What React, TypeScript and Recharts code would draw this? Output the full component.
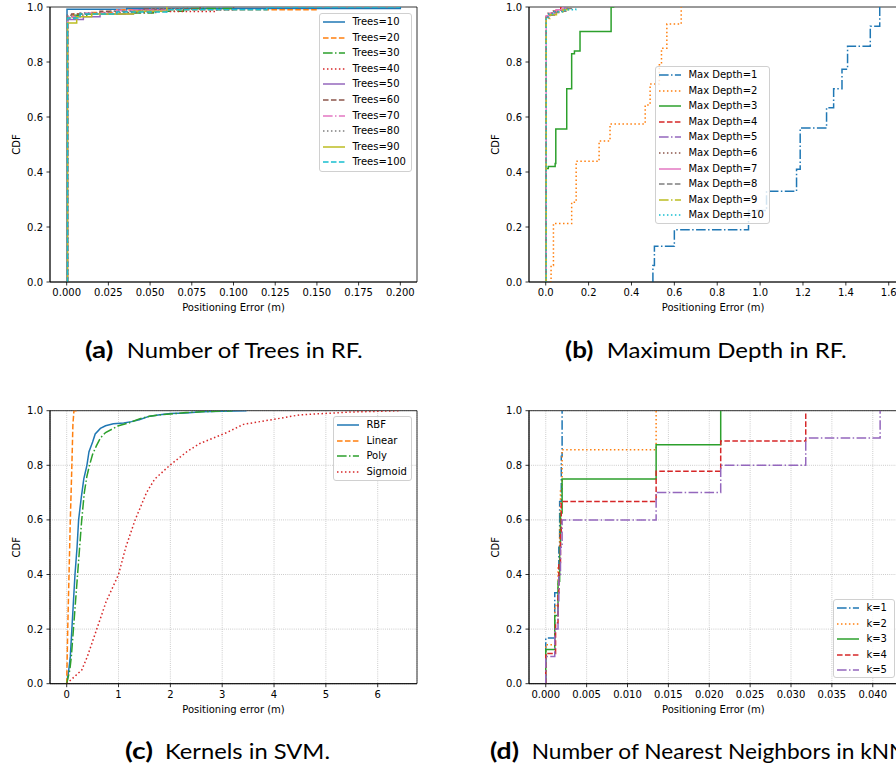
import React from 'react';
import { LineChart, Line, XAxis, YAxis, CartesianGrid, Legend, ReferenceArea, Label } from 'recharts';

type Pt = [number, number];

// ---------- shared ----------
const tab10 = ['#1f77b4', '#ff7f0e', '#2ca02c', '#d62728', '#9467bd', '#8c564b', '#e377c2', '#7f7f7f', '#bcbd22', '#17becf'];
const yTicks = [0, 0.2, 0.4, 0.6, 0.8, 1.0];

// ---------- (a) Number of trees ----------
const treesNames = ['Trees=10', 'Trees=20', 'Trees=30', 'Trees=40', 'Trees=50', 'Trees=60', 'Trees=70', 'Trees=80', 'Trees=90', 'Trees=100'];
const treesStyles = ['solid', 'dashed', 'dashdot', 'dotted', 'solid', 'dashed', 'dashdot', 'dotted', 'solid', 'dashed'];
const trees10: Pt[] = [[0, 0], [0.0002, 0.992], [0.036, 0.995], [0.2, 1.0]];
const trees20: Pt[] = [[0, 0], [0.0005, 0.965], [0.004, 0.975], [0.015, 0.98], [0.03, 0.99], [0.15, 1.0]];
const trees30: Pt[] = [[0, 0], [0.0005, 0.96], [0.005, 0.97], [0.012, 0.975], [0.035, 0.978], [0.052, 0.985], [0.07, 0.995], [0.1, 1.0]];
const trees40: Pt[] = [[0, 0], [0.0005, 0.965], [0.008, 0.975], [0.03, 0.98], [0.055, 0.984], [0.09, 0.99], [0.1, 1.0]];
const trees50: Pt[] = [[0, 0], [0.0005, 0.955], [0.01, 0.965], [0.02, 0.975], [0.04, 0.99], [0.06, 1.0]];
const trees60: Pt[] = [[0, 0], [0.0005, 0.97], [0.003, 0.975], [0.02, 0.985], [0.045, 0.993], [0.08, 1.0]];
const trees70: Pt[] = [[0, 0], [0.0005, 0.965], [0.01, 0.978], [0.03, 0.988], [0.06, 1.0]];
const trees80: Pt[] = [[0, 0], [0.0005, 0.968], [0.008, 0.978], [0.025, 0.985], [0.05, 0.995], [0.07, 1.0]];
const trees90: Pt[] = [[0, 0], [0.0005, 0.942], [0.006, 0.965], [0.015, 0.975], [0.04, 0.985], [0.06, 1.0]];
const trees100: Pt[] = [[0, 0], [0.0005, 0.96], [0.008, 0.975], [0.03, 0.982], [0.06, 0.99], [0.12, 1.0], [0.2, 1.0]];
const treesData = [trees10, trees20, trees30, trees40, trees50, trees60, trees70, trees80, trees90, trees100];
const treesTicks = [0, 0.025, 0.05, 0.075, 0.1, 0.125, 0.15, 0.175, 0.2];

// ---------- (b) Max depth ----------
const depthNames = ['Max Depth=1', 'Max Depth=2', 'Max Depth=3', 'Max Depth=4', 'Max Depth=5', 'Max Depth=6', 'Max Depth=7', 'Max Depth=8', 'Max Depth=9', 'Max Depth=10'];
const depthStyles = ['dashdot', 'dotted', 'solid', 'dashed', 'dashdot', 'dotted', 'solid', 'dashed', 'dashdot', 'dotted'];
const depth1: Pt[] = [[0.5, 0], [0.5, 0.06], [0.507, 0.13], [0.6, 0.19], [0.946, 0.26], [1.03, 0.33], [1.17, 0.41], [1.187, 0.56], [1.31, 0.634], [1.343, 0.703], [1.382, 0.774], [1.408, 0.857], [1.514, 0.93], [1.558, 1.0]];
const depth2: Pt[] = [[0.02, 0], [0.025, 0.06], [0.036, 0.213], [0.121, 0.29], [0.142, 0.439], [0.249, 0.513], [0.3, 0.575], [0.464, 0.644], [0.487, 0.72], [0.53, 0.79], [0.54, 0.85], [0.565, 0.938], [0.632, 1.0]];
const depth3: Pt[] = [[0, 0], [0.001, 0.413], [0.012, 0.42], [0.044, 0.431], [0.047, 0.556], [0.098, 0.703], [0.121, 0.83], [0.134, 0.84], [0.16, 0.911], [0.305, 1.0], [0.32, 1.0]];
const depth4: Pt[] = [[0, 0], [0.002, 0.965], [0.01, 0.975], [0.03, 0.985], [0.05, 0.99], [0.07, 1.0]];
const depth5: Pt[] = [[0, 0], [0.002, 0.96], [0.015, 0.97], [0.04, 0.98], [0.06, 0.99], [0.09, 1.0]];
const depth6: Pt[] = [[0, 0], [0.002, 0.965], [0.012, 0.978], [0.035, 0.985], [0.07, 0.992], [0.1, 1.0]];
const depth7: Pt[] = [[0, 0], [0.002, 0.968], [0.02, 0.978], [0.05, 0.99], [0.08, 1.0]];
const depth8: Pt[] = [[0, 0], [0.002, 0.962], [0.01, 0.97], [0.03, 0.98], [0.06, 0.985], [0.1, 0.995], [0.12, 1.0]];
const depth9: Pt[] = [[0, 0], [0.002, 0.958], [0.02, 0.972], [0.05, 0.982], [0.08, 0.99], [0.11, 1.0]];
const depth10: Pt[] = [[0, 0], [0.002, 0.963], [0.015, 0.975], [0.04, 0.983], [0.09, 0.99], [0.14, 1.0]];
const depthData = [depth1, depth2, depth3, depth4, depth5, depth6, depth7, depth8, depth9, depth10];
const depthTicks = [0, 0.2, 0.4, 0.6, 0.8, 1.0, 1.2, 1.4, 1.6];

// ---------- (c) SVM kernels ----------
const kernelNames = ['RBF', 'Linear', 'Poly', 'Sigmoid'];
const kernelStyles = ['solid', 'dashed', 'dashdot', 'dotted'];
const rbf: Pt[] = [[0, 0], [0.04, 0.05], [0.07, 0.1], [0.1, 0.2], [0.13, 0.3], [0.16, 0.4], [0.2, 0.5], [0.23, 0.6], [0.28, 0.68], [0.33, 0.75], [0.39, 0.8], [0.43, 0.85], [0.5, 0.885], [0.55, 0.915], [0.65, 0.935], [0.75, 0.945], [0.9, 0.952], [1.1, 0.955], [1.25, 0.96], [1.4, 0.967], [1.6, 0.98], [1.8, 0.985], [2.0, 0.99], [2.3, 0.992], [2.6, 0.996], [3.0, 0.998], [3.47, 1.0]];
const linear: Pt[] = [[0, 0], [0.02, 0.2], [0.045, 0.4], [0.07, 0.6], [0.1, 0.8], [0.12, 0.95], [0.14, 1.0], [0.2, 1.0]];
const poly: Pt[] = [[0, 0], [0.06, 0.05], [0.09, 0.1], [0.13, 0.2], [0.17, 0.3], [0.21, 0.4], [0.25, 0.5], [0.29, 0.6], [0.34, 0.7], [0.39, 0.76], [0.44, 0.8], [0.5, 0.84], [0.57, 0.87], [0.65, 0.9], [0.75, 0.92], [0.9, 0.935], [1.0, 0.945], [1.2, 0.955], [1.4, 0.97], [1.6, 0.98], [1.8, 0.985], [2.0, 0.988], [2.3, 0.993], [2.7, 0.997], [3.2, 1.0]];
const sigmoid: Pt[] = [[0, 0], [0.29, 0.05], [0.4, 0.1], [0.58, 0.2], [0.76, 0.3], [1.0, 0.4], [1.14, 0.5], [1.32, 0.6], [1.54, 0.7], [1.7, 0.75], [1.99, 0.8], [2.32, 0.85], [2.57, 0.88], [2.83, 0.9], [3.09, 0.92], [3.41, 0.95], [3.73, 0.96], [4.05, 0.97], [4.5, 0.985], [5.0, 0.99], [5.47, 0.995], [6.43, 1.0]];
const kernelData = [rbf, linear, poly, sigmoid];
const kernelTicks = [0, 1, 2, 3, 4, 5, 6];

// ---------- (d) kNN ----------
const knnNames = ['k=1', 'k=2', 'k=3', 'k=4', 'k=5'];
const knnStyles = ['dashdot', 'dotted', 'solid', 'dashed', 'dashdot'];
const k1: Pt[] = [[0, 0], [0, 0.167], [0.0011, 0.333], [0.0016, 0.5], [0.0017, 0.667], [0.0019, 0.833], [0.002, 1.0]];
const k2: Pt[] = [[0, 0], [0, 0.143], [0.0011, 0.286], [0.0015, 0.429], [0.0017, 0.571], [0.0018, 0.714], [0.002, 0.857], [0.0135, 1.0]];
const k3: Pt[] = [[0, 0], [0, 0.125], [0.0011, 0.25], [0.0015, 0.375], [0.0017, 0.5], [0.0018, 0.625], [0.002, 0.75], [0.0135, 0.875], [0.0214, 1.0]];
const k4: Pt[] = [[0, 0], [0, 0.111], [0.0012, 0.222], [0.0015, 0.333], [0.0016, 0.444], [0.0018, 0.556], [0.0019, 0.667], [0.0135, 0.778], [0.0214, 0.889], [0.0318, 1.0]];
const k5: Pt[] = [[0, 0], [0, 0.1], [0.0011, 0.2], [0.0015, 0.3], [0.0016, 0.4], [0.0018, 0.5], [0.002, 0.6], [0.0135, 0.7], [0.0214, 0.8], [0.0318, 0.9], [0.0409, 1.0]];
const knnData = [k1, k2, k3, k4, k5];
const knnTicks = [0, 0.005, 0.01, 0.015, 0.02, 0.025, 0.03, 0.035, 0.04];

// ---------- captions ----------
const captionTags = ['(a)', '(b)', '(c)', '(d)'];
const captionTexts = ['Number of Trees in RF.', 'Maximum Depth in RF.', 'Kernels in SVM.', 'Number of Nearest Neighbors in kNN.'];

// ---------- styles ----------
const DASH: Record<string, string | undefined> = {
  solid: undefined,
  dashed: '5.55 2.4',
  dashdot: '9.6 2.4 1.5 2.4',
  dotted: '1.5 2.475',
};
const AX_FONT = 'DejaVu Sans, sans-serif';

type Series = { name: string; color: string; dash?: string; data: { x: number; y: number }[] };

function build(names: string[], styles: string[], data: Pt[][]): Series[] {
  return names.map((name, i) => ({
    name,
    color: tab10[i % 10],
    dash: DASH[styles[i]],
    data: data[i].map(([x, y]) => ({ x, y })),
  }));
}

function LegendBox({ series, w, h }: { series: Series[]; w: number; h: number }) {
  return (
    <div
      style={{
        width: w,
        height: h,
        boxSizing: 'border-box',
        border: '1px solid #d0d0d0',
        borderRadius: 3,
        background: 'rgba(255,255,255,0.8)',
        fontFamily: AX_FONT,
        fontSize: 10,
        color: '#000',
        paddingLeft: 3,
        paddingTop: 0.3,
      }}
    >
      {series.map((s) => (
        <div key={s.name} style={{ height: 15.6, display: 'flex', alignItems: 'center', whiteSpace: 'nowrap' }}>
          <svg width={22} height={4} style={{ display: 'block', flex: 'none' }}>
            <line x1={0} y1={2} x2={22} y2={2} stroke={s.color} strokeWidth={1.5} strokeDasharray={s.dash} />
          </svg>
          <span style={{ marginLeft: 7.4, lineHeight: '10px' }}>{s.name}</span>
        </div>
      ))}
    </div>
  );
}

type PanelProps = {
  left: number;
  top: number;
  width: number;
  height: number;
  marginTop: number;
  marginRight: number;
  yAxisWidth: number;
  xAxisHeight: number;
  xDomain: [number, number];
  xTicks: number[];
  xFmt: (v: number) => string;
  xLabel: string;
  series: Series[];
  grid: boolean;
  curve: 'stepAfter' | 'linear';
  legend: { x: number; y: number; w: number; h: number };
};

function Panel(p: PanelProps) {
  const tick = { fill: '#000', fontSize: 10, fontFamily: AX_FONT };
  const xLab = (props: any) => {
    const vb = props.viewBox || {};
    return (
      <text x={vb.x + vb.width / 2} y={vb.y + 25.7} textAnchor="middle" dominantBaseline="central" fontSize={10} fontFamily={AX_FONT} fill="#000">
        {p.xLabel}
      </text>
    );
  };
  const yLab = (props: any) => {
    const vb = props.viewBox || {};
    const cx = vb.x + vb.width - 33.3;
    const cy = vb.y + vb.height / 2;
    return (
      <text x={cx} y={cy} textAnchor="middle" dominantBaseline="central" fontSize={10} fontFamily={AX_FONT} fill="#000" transform={`rotate(-90, ${cx}, ${cy})`}>
        CDF
      </text>
    );
  };
  return (
    <div style={{ position: 'absolute', left: p.left, top: p.top, width: p.width, height: p.height }}>
      <LineChart width={p.width} height={p.height} margin={{ top: p.marginTop, right: p.marginRight, bottom: 0, left: 0 }}>
        {p.grid && <CartesianGrid stroke="#b0b0b0" strokeWidth={0.8} strokeDasharray="0.8 1.32" />}
        <XAxis
          type="number"
          dataKey="x"
          domain={p.xDomain}
          ticks={p.xTicks}
          tickFormatter={p.xFmt}
          allowDataOverflow
          interval={0}
          height={p.xAxisHeight}
          tickSize={3.5}
          tickMargin={3.5}
          tick={tick}
          tickLine={{ stroke: '#000', strokeWidth: 0.8 }}
          axisLine={{ stroke: '#000', strokeWidth: 0.8 }}
          label={<Label content={xLab} />}
        />
        <YAxis
          type="number"
          domain={[0, 1]}
          ticks={yTicks}
          tickFormatter={(v: number) => v.toFixed(1)}
          allowDataOverflow
          interval={0}
          width={p.yAxisWidth}
          tickSize={3.5}
          tickMargin={3.5}
          tick={tick}
          tickLine={{ stroke: '#000', strokeWidth: 0.8 }}
          axisLine={{ stroke: '#000', strokeWidth: 0.8 }}
          label={<Label content={yLab} />}
        />
        {p.series.map((s) => (
          <Line
            key={s.name}
            name={s.name}
            data={s.data}
            dataKey="y"
            type={p.curve}
            stroke={s.color}
            strokeWidth={1.5}
            strokeDasharray={s.dash}
            dot={false}
            activeDot={false}
            isAnimationActive={false}
          />
        ))}
        <ReferenceArea x1={p.xDomain[0]} x2={p.xDomain[1]} y1={0} y2={1} fill="none" fillOpacity={0} stroke="#000" strokeWidth={0.8} ifOverflow="visible" />
        <Legend
          layout="vertical"
          align="center"
          verticalAlign="middle"
          wrapperStyle={{ left: p.legend.x, top: p.legend.y, width: p.legend.w, height: p.legend.h }}
          content={() => <LegendBox series={p.series} w={p.legend.w} h={p.legend.h} />}
        />
      </LineChart>
    </div>
  );
}

const captionX = [85, 565, 125, 490];
const captionTagLen = [28.3, 28.3, 28, 29];
const captionRestX = [126.7, 606.7, 165, 531.7];
const captionY = [358.3, 358.3, 758.7, 758.7];
const captionRestLen = [236, 240, 165, 380];

export default function App() {
  const treesSeries = build(treesNames, treesStyles, treesData);
  const depthSeries = build(depthNames, depthStyles, depthData);
  const kernelSeries = build(kernelNames, kernelStyles, kernelData);
  const knnSeries = build(knnNames, knnStyles, knnData);
  return (
    <div style={{ position: 'absolute', left: 0, top: 0, width: 896, height: 769, overflow: 'hidden', background: '#fff' }}>
      <Panel
        left={0}
        top={0}
        width={430}
        height={320}
        marginTop={7}
        marginRight={13}
        yAxisWidth={50}
        xAxisHeight={38}
        xDomain={[-0.01, 0.21]}
        xTicks={treesTicks}
        xFmt={(v) => v.toFixed(3)}
        xLabel="Positioning Error (m)"
        series={treesSeries}
        grid={false}
        curve="stepAfter"
        legend={{ x: 319, y: 13, w: 93, h: 159 }}
      />
      <Panel
        left={448}
        top={0}
        width={460}
        height={320}
        marginTop={7}
        marginRight={10.7}
        yAxisWidth={81}
        xAxisHeight={38}
        xDomain={[-0.078, 1.64]}
        xTicks={depthTicks}
        xFmt={(v) => v.toFixed(1)}
        xLabel="Positioning Error (m)"
        series={depthSeries}
        grid={false}
        curve="stepAfter"
        legend={{ x: 207, y: 66, w: 115, h: 158 }}
      />
      <Panel
        left={0}
        top={400}
        width={430}
        height={320}
        marginTop={10.7}
        marginRight={13}
        yAxisWidth={50}
        xAxisHeight={36.3}
        xDomain={[-0.322, 6.758]}
        xTicks={kernelTicks}
        xFmt={(v) => String(v)}
        xLabel="Positioning error (m)"
        series={kernelSeries}
        grid={true}
        curve="linear"
        legend={{ x: 333, y: 16, w: 79, h: 65 }}
      />
      <Panel
        left={448}
        top={400}
        width={460}
        height={320}
        marginTop={10.7}
        marginRight={10.3}
        yAxisWidth={81}
        xAxisHeight={36.3}
        xDomain={[-0.00205, 0.04305]}
        xTicks={knnTicks}
        xFmt={(v) => v.toFixed(3)}
        xLabel="Positioning Error (m)"
        series={knnSeries}
        grid={true}
        curve="stepAfter"
        legend={{ x: 385, y: 199, w: 62, h: 79 }}
      />
      <svg width={896} height={769} style={{ position: 'absolute', left: 0, top: 0, pointerEvents: 'none' }}>
        {captionTags.map((tag, i) => (
          <g key={tag}>
            <text x={captionX[i]} y={captionY[i]} fontFamily="Lato, sans-serif" fontSize={22} fontWeight="bold" fill="#000" textLength={captionTagLen[i]} lengthAdjust="spacingAndGlyphs">
              {tag}
            </text>
            <text x={captionRestX[i]} y={captionY[i]} fontFamily="Lato, sans-serif" fontSize={22} fill="#000" textLength={captionRestLen[i]} lengthAdjust="spacingAndGlyphs">
              {captionTexts[i]}
            </text>
          </g>
        ))}
      </svg>
    </div>
  );
}
